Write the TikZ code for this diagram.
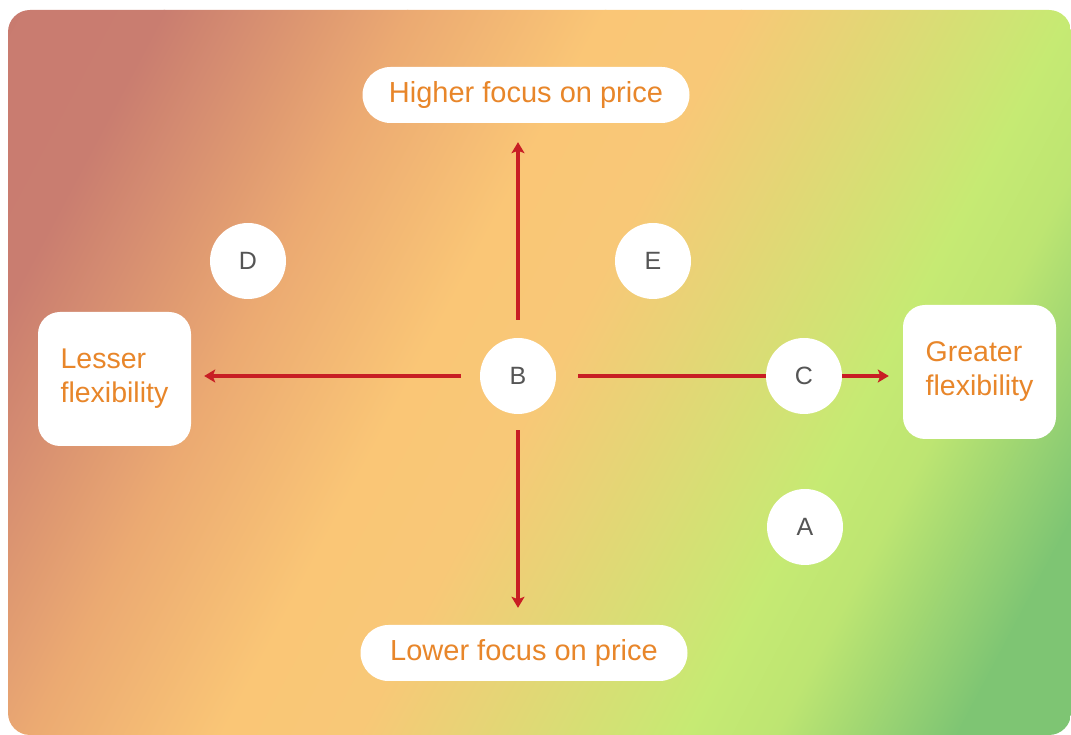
\documentclass[tikz,border=0pt]{standalone}
\usepackage{fontspec}
\setmainfont{Liberation Sans}
\usetikzlibrary{arrows.meta}
\definecolor{g0}{HTML}{C87A6F}
\definecolor{g1}{HTML}{C97D70}
\definecolor{g2}{HTML}{EBA972}
\definecolor{g3}{HTML}{FAC676}
\definecolor{g4}{HTML}{F8C877}
\definecolor{g5}{HTML}{C6EA73}
\definecolor{g6}{HTML}{BDE572}
\definecolor{g7}{HTML}{7EC573}
\definecolor{g8}{HTML}{7DC473}
\definecolor{txtorange}{HTML}{E8862A}
\definecolor{arrred}{HTML}{C81E24}
\definecolor{lettergray}{HTML}{555555}
\begin{document}
\begin{tikzpicture}[x=1pt,y=1pt,
  pill/.style={fill=white, rounded corners=28pt, minimum width=327pt, minimum height=56pt,
    inner sep=0pt, text=txtorange, font=\fontsize{29}{35}\selectfont},
  sidebox/.style={fill=white, rounded corners=22pt, minimum width=153pt, minimum height=134pt,
    inner sep=0pt, text=txtorange, align=left, font=\fontsize{28.5}{34}\selectfont},
  dot/.style={circle, fill=white, minimum size=76pt, inner sep=0pt, text=lettergray,
    font=\fontsize{25}{30}\selectfont},
  arr/.style={draw=arrred, line width=3.2pt, -{Stealth[length=11pt,width=13pt,inset=2.5pt]}},
  seg/.style={draw=arrred, line width=3.2pt}]
\useasboundingbox (0,0) rectangle (1071,735);
% background gradient
\begin{scope}
  \clip[rounded corners=22pt] (8,0) rectangle (1071,725);
  \begin{scope}[transform canvas={rotate=-27.9}]
    \foreach \a/\b/\ca/\cb in {-100/150/g0/g1, 150/365/g1/g2, 365/540/g2/g3, 540/660/g3/g4,
        660/950/g4/g5, 950/1030/g5/g6, 1030/1190/g6/g7, 1190/1450/g7/g8}
      \shade[left color=\ca, right color=\cb] (\a-344.6,-300) rectangle (\b-343.4,1500);
  \end{scope}
\end{scope}
% nodes
\node[pill] (hi) at (526,640) {Higher focus on price};
\node[pill] (lo) at (524,82) {Lower focus on price};
\node[sidebox] (lesser) at (114.5,356) {Lesser\\flexibility};
\node[sidebox] (greater) at (979.5,363) {Greater\\flexibility};
\node[dot] (D) at (248,474) {D};
\node[dot] (E) at (653,474) {E};
\node[dot] (B) at (518,359) {B};
\node[dot] (C) at (804,359) {C};
\node[dot] (A) at (805,208) {A};
% connectors
\draw[arr, shorten <=18pt, shorten >=19pt] (B.north) -- (B.north |- hi.south);
\draw[arr, shorten <=16pt, shorten >=17pt] (B.south) -- (B.south |- lo.north);
\draw[arr, shorten <=19pt, shorten >=13pt] (B.west) -- (B.west -| lesser.east);
\draw[seg, shorten <=22pt] (B.east) -- (C.west);
\draw[arr, shorten >=14pt] (C.east) -- (C.east -| greater.west);
\end{tikzpicture}
\end{document}
